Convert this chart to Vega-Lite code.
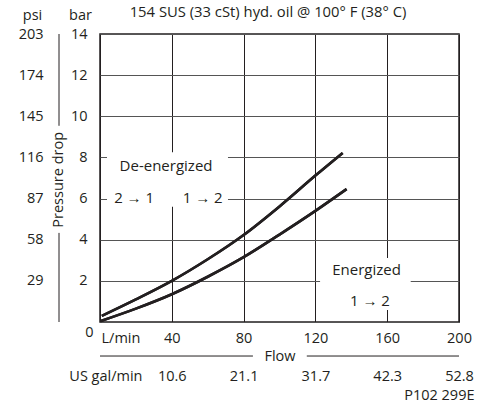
{
  "$schema": "https://vega.github.io/schema/vega-lite/v6.json",
  "width": 359,
  "height": 288,
  "autosize": {"type": "none"},
  "padding": {"left": 100, "top": 34, "right": 29, "bottom": 83},
  "config": {
    "view": {"stroke": "#231f20", "strokeWidth": 1.5},
    "font": "Open Sans",
    "axis": {"labelFont": "Open Sans", "titleFont": "Open Sans", "labelFontSize": 14.5, "titleFontSize": 14.5, "titleFontWeight": "normal", "labelColor": "#231f20", "titleColor": "#231f20"},
    "text": {"font": "Open Sans", "fontSize": 15, "color": "#231f20"}
  },
  "datasets": {
    "curves": [
      {"s": "upper", "flow": 1, "bar": 0.3},
      {"s": "upper", "flow": 20, "bar": 1.1},
      {"s": "upper", "flow": 40, "bar": 2.0},
      {"s": "upper", "flow": 60, "bar": 3.05},
      {"s": "upper", "flow": 80, "bar": 4.23},
      {"s": "upper", "flow": 100, "bar": 5.62},
      {"s": "upper", "flow": 120, "bar": 7.12},
      {"s": "upper", "flow": 135.2, "bar": 8.22},
      {"s": "lower", "flow": 0.5, "bar": 0.05},
      {"s": "lower", "flow": 20, "bar": 0.65},
      {"s": "lower", "flow": 40, "bar": 1.35},
      {"s": "lower", "flow": 60, "bar": 2.2},
      {"s": "lower", "flow": 80, "bar": 3.15},
      {"s": "lower", "flow": 100, "bar": 4.25},
      {"s": "lower", "flow": 120, "bar": 5.4},
      {"s": "lower", "flow": 137.4, "bar": 6.46}
    ],
    "masks": [
      {"x1": 3.9, "x2": 71.3, "y1": 5.6, "y2": 8.25},
      {"x1": 122.6, "x2": 173.1, "y1": 0.58, "y2": 3.11}
    ],
    "labels": [
      {"flow": 36.8, "bar": 7.59, "text": "De-energized"},
      {"flow": 19.0, "bar": 6.03, "text": "2 → 1"},
      {"flow": 57.2, "bar": 6.03, "text": "1 → 2"},
      {"flow": 148.5, "bar": 2.53, "text": "Energized"},
      {"flow": 150.4, "bar": 1.04, "text": "1 → 2"}
    ],
    "flowLines": [
      {"x1": 0, "x2": 85.2, "y": -1.654},
      {"x1": 115.2, "x2": 200, "y": -1.654}
    ],
    "psiLines": [
      {"x": -22.84, "y1": 0, "y2": 62.8},
      {"x": -22.84, "y1": 138.3, "y2": 203}
    ],
    "psiTitle": [
      {"x": -22.84, "y": 100.2, "text": "Pressure drop"}
    ]
  },
  "resolve": {"scale": {"y": "independent"}, "axis": {"x": "independent", "y": "independent"}},
  "layer": [
    {
      "data": {"name": "curves"},
      "mark": {"type": "line", "interpolate": "monotone", "color": "#231f20", "strokeWidth": 2.6},
      "encoding": {
        "x": {
          "field": "flow", "type": "quantitative",
          "scale": {"domain": [0, 200], "nice": false},
          "axis": {
            "orient": "bottom",
            "values": [0, 40, 80, 120, 160, 200],
            "grid": true, "gridColor": "#231f20", "gridWidth": 1,
            "domain": false, "ticks": false,
            "labelExpr": "datum.value == 0 ? 'L/min' : datum.label",
            "labelAlign": {"condition": {"test": "datum.value == 0", "value": "left"}, "value": "center"},
            "labelOffset": {"condition": {"test": "datum.value == 0", "value": 1}, "value": 0},
            "labelBaseline": "middle",
            "labelPadding": 16,
            "title": "Flow",
            "titleX": 179.5, "titleY": 34,
            "titleAlign": "center", "titleBaseline": "middle"
          }
        },
        "y": {
          "field": "bar", "type": "quantitative",
          "scale": {"domain": [0, 14], "nice": false},
          "axis": {
            "orient": "left",
            "values": [0, 2, 4, 6, 8, 10, 12, 14],
            "grid": true, "gridColor": "#555555", "gridWidth": 1.2,
            "domain": false, "ticks": false,
            "labelPadding": {"condition": {"test": "datum.value == 0", "value": 7}, "value": 13},
            "labelOffset": {"condition": {"test": "datum.value == 0", "value": 10}, "value": 0},
            "title": "bar", "titleAngle": 0,
            "titleX": -20, "titleY": -19,
            "titleAlign": "center", "titleBaseline": "middle"
          }
        },
        "detail": {"field": "s", "type": "nominal"}
      }
    },
    {
      "data": {"name": "masks"},
      "mark": {"type": "rect", "fill": "white", "stroke": null},
      "encoding": {
        "x": {"field": "x1", "type": "quantitative", "scale": {"domain": [0, 200], "nice": false}, "axis": null},
        "x2": {"field": "x2"},
        "y": {"field": "y1", "type": "quantitative", "scale": {"domain": [0, 14], "nice": false}, "axis": null},
        "y2": {"field": "y2"}
      }
    },
    {
      "data": {"name": "curves"},
      "mark": {"type": "line", "interpolate": "monotone", "color": "#231f20", "strokeWidth": 2.6},
      "encoding": {
        "x": {"field": "flow", "type": "quantitative", "scale": {"domain": [0, 200], "nice": false}, "axis": null},
        "y": {"field": "bar", "type": "quantitative", "scale": {"domain": [0, 14], "nice": false}, "axis": null},
        "detail": {"field": "s", "type": "nominal"}
      }
    },
    {
      "data": {"name": "labels"},
      "mark": {"type": "text", "align": "center", "baseline": "middle", "fontSize": 15},
      "encoding": {
        "x": {"field": "flow", "type": "quantitative", "scale": {"domain": [0, 200], "nice": false}, "axis": null},
        "y": {"field": "bar", "type": "quantitative", "scale": {"domain": [0, 14], "nice": false}, "axis": null},
        "text": {"field": "text"}
      }
    },
    {
      "data": {"name": "flowLines"},
      "mark": {"type": "rule", "color": "#231f20", "strokeWidth": 1},
      "encoding": {
        "x": {
          "field": "x1", "type": "quantitative",
          "scale": {"domain": [0, 200], "nice": false},
          "axis": {
            "orient": "bottom",
            "values": [0, 40, 80, 120, 160, 200],
            "grid": false, "domain": false, "ticks": false,
            "labelExpr": "datum.value == 0 ? 'US gal/min' : format(datum.value * 0.264172, '.1f')",
            "labelAlign": {"condition": {"test": "datum.value == 0", "value": "right"}, "value": "center"},
            "labelOffset": {"condition": {"test": "datum.value == 0", "value": 42}, "value": 0},
            "labelBaseline": "middle",
            "labelPadding": 54,
            "title": "P102 299E",
            "titleX": 374, "titleY": 73,
            "titleAlign": "right", "titleBaseline": "middle"
          }
        },
        "x2": {"field": "x2"},
        "y": {"field": "y", "type": "quantitative", "scale": {"domain": [0, 14], "nice": false}, "axis": null}
      }
    },
    {
      "data": {"name": "psiLines"},
      "mark": {"type": "rule", "color": "#231f20", "strokeWidth": 1},
      "encoding": {
        "x": {
          "field": "x", "type": "quantitative",
          "scale": {"domain": [0, 200], "nice": false},
          "axis": {
            "orient": "top",
            "labels": false, "grid": false, "domain": false, "ticks": false,
            "title": "154 SUS (33 cSt) hyd. oil @ 100° F (38° C)",
            "titleFontSize": 14.8,
            "titleX": 167.5, "titleY": -22,
            "titleAlign": "center", "titleBaseline": "middle"
          }
        },
        "y": {
          "field": "y1", "type": "quantitative",
          "scale": {"domain": [0, 203], "nice": false},
          "axis": {
            "orient": "left",
            "offset": 41,
            "values": [29, 58, 87, 116, 145, 174, 203],
            "grid": false, "domain": false, "ticks": false,
            "labelPadding": 16,
            "title": "psi", "titleAngle": 0,
            "titleX": -27, "titleY": -19,
            "titleAlign": "center", "titleBaseline": "middle"
          }
        },
        "y2": {"field": "y2"}
      }
    },
    {
      "data": {"name": "psiTitle"},
      "mark": {"type": "text", "angle": 270, "align": "center", "baseline": "middle", "fontSize": 14.5},
      "encoding": {
        "x": {"field": "x", "type": "quantitative", "scale": {"domain": [0, 200], "nice": false}, "axis": null},
        "y": {"field": "y", "type": "quantitative", "scale": {"domain": [0, 203], "nice": false}, "axis": null},
        "text": {"field": "text"}
      }
    }
  ]
}
